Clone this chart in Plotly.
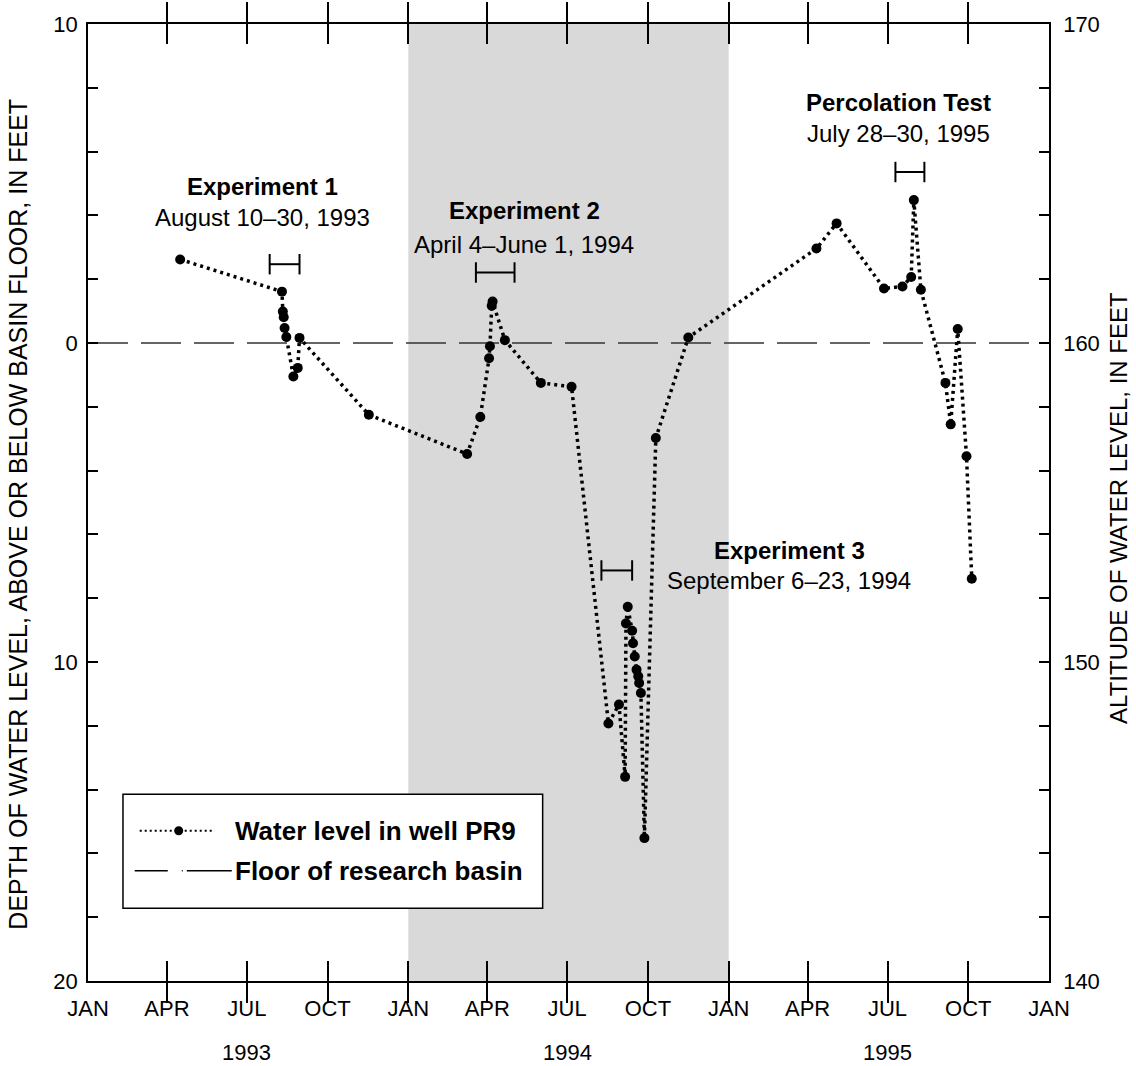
import plotly.graph_objects as go

# ---------------- data ----------------
dates = [
    "1993-04-16", "1993-08-10", "1993-08-11", "1993-08-12", "1993-08-13", "1993-08-15",
    "1993-08-23", "1993-08-28", "1993-08-30", "1993-11-17",
    "1994-03-09", "1994-03-24", "1994-04-03", "1994-04-04", "1994-04-06", "1994-04-07",
    "1994-04-21", "1994-06-01", "1994-07-06", "1994-08-17", "1994-08-29", "1994-09-05",
    "1994-09-06", "1994-09-08", "1994-09-13", "1994-09-14", "1994-09-16", "1994-09-18",
    "1994-09-20", "1994-09-21", "1994-09-23", "1994-09-27", "1994-10-10", "1994-11-16",
    "1995-04-11", "1995-05-04", "1995-06-27", "1995-07-18", "1995-07-28", "1995-07-31",
    "1995-08-08", "1995-09-05", "1995-09-11", "1995-09-19", "1995-09-29", "1995-10-05",
]
level_ft = [
    2.62, 1.61, 0.99, 0.81, 0.47, 0.19,
    -1.05, -0.78, 0.16, -2.25,
    -3.48, -2.32, -0.48, -0.10, 1.17, 1.30,
    0.09, -1.25, -1.37, -11.93, -11.33, -13.60,
    -8.79, -8.27, -9.02, -9.41, -9.83, -10.24,
    -10.45, -10.66, -10.97, -15.52, -2.98, 0.17,
    2.96, 3.75, 1.71, 1.77, 2.07, 4.48,
    1.67, -1.25, -2.55, 0.44, -3.55, -7.39,
]

# experiment periods (range bars)
exp_names = ["Experiment 1", "Experiment 2", "Experiment 3", "Percolation Test"]
exp_dates_text = ["August 10–30, 1993", "April 4–June 1, 1994",
                  "September 6–23, 1994", "July 28–30, 1995"]
exp_start = ["1993-07-27", "1994-03-19", "1994-08-09", "1995-07-10"]
exp_end = ["1993-08-30", "1994-05-02", "1994-09-13", "1995-08-12"]
exp_bar_level = [2.47, 2.21, -7.13, 5.36]
label_x = ["1993-07-19", "1994-05-13", "1995-03-11", "1995-07-14"]
label_title_y = [4.90, 4.15, -6.50, 7.53]
label_sub_y = [3.95, 3.10, -7.45, 6.58]

shade_start, shade_end = "1994-01-01", "1995-01-01"
basin_floor = 0.0

x_tick_vals = ["1993-01-01", "1993-04-01", "1993-07-01", "1993-10-01",
               "1994-01-01", "1994-04-01", "1994-07-01", "1994-10-01",
               "1995-01-01", "1995-04-01", "1995-07-01", "1995-10-01", "1996-01-01"]
x_tick_text = ["JAN", "APR", "JUL", "OCT"] * 3 + ["JAN"]
years = ["1993", "1994", "1995"]
year_centers = ["1993-07-01", "1994-07-01", "1995-07-01"]

y_tick_vals = [-20, -10, 0, 10]
y_tick_text = ["20", "10", "0", "10"]
y2_tick_vals = [140, 150, 160, 170]

FONT = "Liberation Sans, Arial, sans-serif"
CAP = 0.32
TICK_SIZE = 22

fig = go.Figure()

# water level trace
fig.add_trace(go.Scatter(
    x=dates, y=level_ft, mode="lines+markers",
    line=dict(color="black", width=3.5, dash="3px,4px"),
    marker=dict(color="black", size=10),
    showlegend=False, hoverinfo="skip"))

# range bars
for s, e, lv in zip(exp_start, exp_end, exp_bar_level):
    fig.add_trace(go.Scatter(
        x=[s, e, None, s, s, None, e, e],
        y=[lv, lv, None, lv - CAP, lv + CAP, None, lv - CAP, lv + CAP],
        mode="lines", line=dict(color="black", width=2),
        showlegend=False, hoverinfo="skip"))

# dummy trace for right axis
fig.add_trace(go.Scatter(x=[x_tick_vals[0]], y=[160], yaxis="y2",
                         mode="markers", marker=dict(opacity=0),
                         showlegend=False, hoverinfo="skip"))

shapes = [
    dict(type="rect", xref="x", yref="paper", x0=shade_start, x1=shade_end,
         y0=0, y1=1, fillcolor="#d9d9d9", line=dict(width=0), layer="below"),
    dict(type="line", xref="paper", yref="y", x0=0, x1=1, y0=basin_floor, y1=basin_floor,
         line=dict(color="#333333", width=1.5, dash="40px,13px"), layer="below"),
    # legend box
    dict(type="rect", xref="paper", yref="paper", x0=0.0364, x1=0.4731, y0=0.076, y1=0.1952,
         fillcolor="white", line=dict(color="black", width=1.5)),
    dict(type="line", xref="paper", yref="paper", x0=0.0538, x1=0.1319, y0=0.157, y1=0.157,
         line=dict(color="black", width=2, dash="2px,3px")),
    dict(type="circle", xref="paper", yref="paper", x0=0.0897, x1=0.0991, y0=0.1523, y1=0.1617,
         fillcolor="black", line=dict(width=0)),
    dict(type="line", xref="paper", yref="paper", x0=0.0486, x1=0.0830, y0=0.1153, y1=0.1153,
         line=dict(color="black", width=1.5)),
    dict(type="line", xref="paper", yref="paper", x0=0.0976, x1=0.0986, y0=0.1153, y1=0.1153,
         line=dict(color="black", width=1.5)),
    dict(type="line", xref="paper", yref="paper", x0=0.1028, x1=0.1496, y0=0.1153, y1=0.1153,
         line=dict(color="black", width=1.5)),
]

annotations = []
for name, sub, lx, ty, sy in zip(exp_names, exp_dates_text, label_x, label_title_y, label_sub_y):
    annotations.append(dict(x=lx, y=ty, xref="x", yref="y", text="<b>" + name + "</b>",
                            xanchor="center", yanchor="middle",
                            showarrow=False, font=dict(size=24, family=FONT, color="black")))
    annotations.append(dict(x=lx, y=sy, xref="x", yref="y", text=sub,
                            xanchor="center", yanchor="middle",
                            showarrow=False, font=dict(size=24, family=FONT, color="black")))
for yr, xc in zip(years, year_centers):
    annotations.append(dict(x=xc, y=-0.0743, xref="x", yref="paper", text=yr,
                            xanchor="center", yanchor="middle",
                            showarrow=False, font=dict(size=TICK_SIZE, family=FONT, color="black")))
annotations += [
    dict(x=0.1505, y=0.157, xref="paper", yref="paper", xanchor="left", yanchor="middle",
         text="<b>Water level in well PR9</b>", showarrow=False,
         font=dict(size=26, family=FONT, color="black")),
    dict(x=0.1507, y=0.1153, xref="paper", yref="paper", xanchor="left", yanchor="middle",
         text="<b>Floor of research basin</b>", showarrow=False,
         font=dict(size=26, family=FONT, color="black")),
    dict(x=-0.0732, y=0.488, xref="paper", yref="paper", textangle=-90,
         xanchor="center", yanchor="middle",
         text="DEPTH OF WATER LEVEL, ABOVE OR BELOW BASIN FLOOR, IN FEET",
         showarrow=False, font=dict(size=25, family=FONT, color="black")),
    dict(x=1.0725, y=0.494, xref="paper", yref="paper", textangle=-90,
         xanchor="center", yanchor="middle",
         text="ALTITUDE OF WATER LEVEL, IN FEET",
         showarrow=False, font=dict(size=24, family=FONT, color="black")),
]

fig.update_layout(
    width=1136, height=1066,
    margin=dict(l=88, r=87, t=21, b=85),
    plot_bgcolor="white", paper_bgcolor="white",
    font=dict(family=FONT, size=TICK_SIZE, color="black"),
    shapes=shapes, annotations=annotations,
    xaxis=dict(type="date", range=["1993-01-01", "1996-01-01"],
               tickvals=x_tick_vals, ticktext=x_tick_text,
               ticks="inside", ticklen=20, tickwidth=1.5, tickcolor="black",
               showline=True, linecolor="black", linewidth=1.5, mirror="allticks",
               showgrid=False, zeroline=False, ticklabelstandoff=7,
               tickfont=dict(size=TICK_SIZE, family=FONT)),
    yaxis=dict(range=[-20, 10], tickvals=y_tick_vals, ticktext=y_tick_text,
               ticks="inside", ticklen=10, tickwidth=1.5, tickcolor="black",
               minor=dict(dtick=2, tick0=0, ticks="inside", ticklen=10, tickwidth=1.5,
                          tickcolor="black", showgrid=False),
               showline=True, linecolor="black", linewidth=1.5, ticklabelstandoff=4,
               showgrid=False, zeroline=False, tickfont=dict(size=TICK_SIZE, family=FONT)),
    yaxis2=dict(range=[140, 170], tickvals=y2_tick_vals, overlaying="y", side="right",
                ticks="inside", ticklen=10, tickwidth=1.5, tickcolor="black",
                minor=dict(dtick=2, tick0=0, ticks="inside", ticklen=10, tickwidth=1.5,
                           tickcolor="black", showgrid=False),
                showline=True, linecolor="black", linewidth=1.5, ticklabelstandoff=8,
                showgrid=False, zeroline=False, tickfont=dict(size=TICK_SIZE, family=FONT)),
)

fig.write_html("out.html")
